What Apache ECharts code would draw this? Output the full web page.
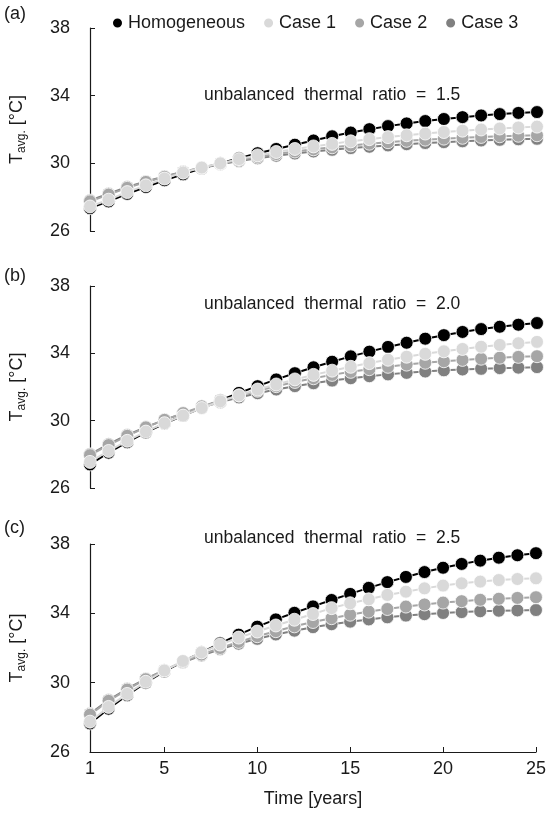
<!DOCTYPE html>
<html>
<head>
<meta charset="utf-8">
<script src="https://cdn.jsdelivr.net/npm/echarts@6/dist/echarts.min.js"></script>
<style>
  html, body { margin: 0; padding: 0; background: #fff; }
  #chart { width: 549px; height: 814px; }
</style>
</head>
<body>
<div id="chart"></div>
<script>
// years, one point per year
const years = [1, 2, 3, 4, 5, 6, 7, 8, 9, 10, 11, 12, 13, 14, 15, 16, 17, 18, 19, 20, 21, 22, 23, 24, 25];
const xTicks = [1, 5, 10, 15, 20, 25];
const seriesNames = ['Homogeneous', 'Case 1', 'Case 2', 'Case 3'];
const panelLabels = ['(a)', '(b)', '(c)'];
const ratioLabels = ['unbalanced  thermal  ratio  =  1.5', 'unbalanced  thermal  ratio  =  2.0', 'unbalanced  thermal  ratio  =  2.5'];

// (a) ratio 1.5
const homogeneousA = [27.35, 27.75, 28.2, 28.6, 29.0, 29.35, 29.7, 30.0, 30.3, 30.6, 30.85, 31.1, 31.35, 31.6, 31.82, 32.02, 32.2, 32.36, 32.5, 32.62, 32.73, 32.83, 32.91, 32.98, 33.03];
const case1A = [27.45, 27.85, 28.3, 28.7, 29.1, 29.45, 29.75, 30.0, 30.25, 30.47, 30.67, 30.85, 31.0, 31.15, 31.3, 31.43, 31.55, 31.66, 31.76, 31.85, 31.93, 32.0, 32.06, 32.12, 32.17];
const case2A = [27.75, 28.15, 28.55, 28.9, 29.2, 29.5, 29.75, 29.98, 30.2, 30.38, 30.55, 30.7, 30.83, 30.95, 31.06, 31.16, 31.25, 31.33, 31.4, 31.46, 31.51, 31.56, 31.6, 31.63, 31.66];
const case3A = [27.8, 28.2, 28.6, 28.93, 29.22, 29.5, 29.73, 29.95, 30.13, 30.3, 30.45, 30.58, 30.7, 30.8, 30.9, 30.98, 31.06, 31.13, 31.2, 31.25, 31.3, 31.35, 31.39, 31.42, 31.45];

// (b) ratio 2.0
const homogeneousB = [27.4, 28.1, 28.72, 29.3, 29.83, 30.3, 30.77, 31.22, 31.65, 32.05, 32.45, 32.82, 33.17, 33.5, 33.82, 34.1, 34.38, 34.63, 34.87, 35.08, 35.27, 35.44, 35.58, 35.7, 35.8];
const case1B = [27.55, 28.2, 28.8, 29.35, 29.85, 30.3, 30.75, 31.15, 31.5, 31.85, 32.15, 32.45, 32.72, 32.97, 33.2, 33.42, 33.62, 33.8, 33.97, 34.12, 34.26, 34.39, 34.5, 34.6, 34.68];
const case2B = [27.95, 28.55, 29.1, 29.6, 30.05, 30.45, 30.85, 31.2, 31.5, 31.78, 32.05, 32.3, 32.52, 32.72, 32.9, 33.06, 33.2, 33.33, 33.44, 33.53, 33.61, 33.68, 33.74, 33.79, 33.83];
const case3B = [28.0, 28.6, 29.15, 29.62, 30.05, 30.43, 30.78, 31.1, 31.38, 31.63, 31.85, 32.05, 32.22, 32.38, 32.52, 32.64, 32.75, 32.84, 32.92, 32.99, 33.04, 33.08, 33.12, 33.15, 33.18];

// (c) ratio 2.5
const homogeneousC = [27.65, 28.5, 29.28, 30.0, 30.65, 31.22, 31.75, 32.27, 32.77, 33.23, 33.65, 34.03, 34.4, 34.77, 35.12, 35.47, 35.8, 36.1, 36.38, 36.63, 36.85, 37.04, 37.21, 37.35, 37.47];
const case1C = [27.75, 28.6, 29.35, 30.05, 30.7, 31.25, 31.75, 32.2, 32.6, 32.95, 33.3, 33.63, 33.96, 34.3, 34.58, 34.81, 35.06, 35.25, 35.44, 35.6, 35.73, 35.83, 35.92, 35.98, 36.02];
const case2C = [28.15, 28.95, 29.6, 30.2, 30.72, 31.2, 31.62, 32.0, 32.35, 32.68, 32.97, 33.25, 33.5, 33.72, 33.92, 34.1, 34.25, 34.39, 34.51, 34.62, 34.7, 34.78, 34.84, 34.89, 34.93];
const case3C = [28.2, 29.0, 29.65, 30.22, 30.72, 31.17, 31.57, 31.93, 32.25, 32.53, 32.78, 33.0, 33.2, 33.37, 33.52, 33.65, 33.77, 33.87, 33.95, 34.02, 34.07, 34.12, 34.15, 34.17, 34.19];

const panels = [
  { Homogeneous: homogeneousA, 'Case 1': case1A, 'Case 2': case2A, 'Case 3': case3A },
  { Homogeneous: homogeneousB, 'Case 1': case1B, 'Case 2': case2B, 'Case 3': case3B },
  { Homogeneous: homogeneousC, 'Case 1': case1C, 'Case 2': case2C, 'Case 3': case3C }
];

const COLORS = { Homogeneous: '#000000', 'Case 1': '#d9d9d9', 'Case 2': '#a6a6a6', 'Case 3': '#808080' };
const DRAW_ORDER = ['Homogeneous', 'Case 3', 'Case 2', 'Case 1'];
const FONT = 'Liberation Sans, Arial, sans-serif';
const TXT = '#1a1a1a';
const FS = 18;

const grids = [
  { left: 88, right: 12, top: 28, height: 203 },
  { left: 88, right: 12, top: 286, height: 202 },
  { left: 88, right: 12, top: 544, height: 208 }
];

const xAxes = grids.map((g, i) => {
  const last = i === grids.length - 1;
  return {
    type: 'value', gridIndex: i, min: 1, max: 25,
    axisLine: { show: last, lineStyle: { color: TXT, width: 1.2 } },
    axisTick: { show: last, inside: true, length: 5, customValues: xTicks, lineStyle: { color: TXT } },
    axisLabel: { show: last, customValues: xTicks, color: TXT, fontSize: FS, fontFamily: FONT, margin: 8 },
    splitLine: { show: false },
    name: last ? 'Time [years]' : '',
    nameLocation: 'middle', nameGap: 38,
    nameTextStyle: { color: TXT, fontSize: FS, fontFamily: FONT }
  };
});

const yAxes = grids.map((g, i) => ({
  type: 'value', gridIndex: i, min: 26, max: 38, interval: 4,
  axisLine: { show: true, lineStyle: { color: TXT, width: 1.2 } },
  axisTick: { show: true, inside: true, length: 5, lineStyle: { color: TXT } },
  axisLabel: { color: TXT, fontSize: FS, fontFamily: FONT, margin: 20 },
  splitLine: { show: false },
  name: '{a|T}{b|avg.}{a| [°C]}',
  nameLocation: 'middle', nameGap: 62, nameRotate: 90,
  nameTextStyle: {
    color: TXT, fontFamily: FONT,
    rich: {
      a: { fontSize: FS, fontFamily: FONT, color: TXT, lineHeight: 22 },
      b: { fontSize: 12, fontFamily: FONT, color: TXT, lineHeight: 12, verticalAlign: 'bottom' }
    }
  }
}));

const series = [];
panels.forEach((p, i) => {
  DRAW_ORDER.forEach((name, k) => {
    series.push({
      name: name, type: 'line', xAxisIndex: i, yAxisIndex: i,
      data: years.map((yr, j) => [yr, p[name][j]]),
      symbol: 'circle', symbolSize: 13, showSymbol: true,
      lineStyle: { color: COLORS[name], width: 2 },
      itemStyle: { color: COLORS[name], borderColor: '#ffffff', borderWidth: 0.8 },
      z: 2 + k, silent: true
    });
  });
});

const graphics = [];
panelLabels.forEach((t, i) => {
  graphics.push({ type: 'text', x: 4, y: [14, 276, 528][i],
    style: { text: t, fill: TXT, fontSize: FS, fontFamily: FONT, verticalAlign: 'middle' } });
  graphics.push({ type: 'text', x: 204, y: [95, 304, 538][i],
    style: { text: ratioLabels[i], fill: TXT, fontSize: 17.5, fontFamily: FONT, verticalAlign: 'middle' } });
});

const chart = echarts.init(document.getElementById('chart'), null, { renderer: 'canvas' });
chart.setOption({
  animation: false,
  backgroundColor: '#fff',
  legend: {
    data: seriesNames, left: 106, top: 9, icon: 'circle',
    itemWidth: 11, itemHeight: 11, itemGap: 17,
    textStyle: { color: TXT, fontSize: FS, fontFamily: FONT }
  },
  grid: grids,
  xAxis: xAxes,
  yAxis: yAxes,
  series: series,
  graphic: graphics
});
</script>
</body>
</html>
